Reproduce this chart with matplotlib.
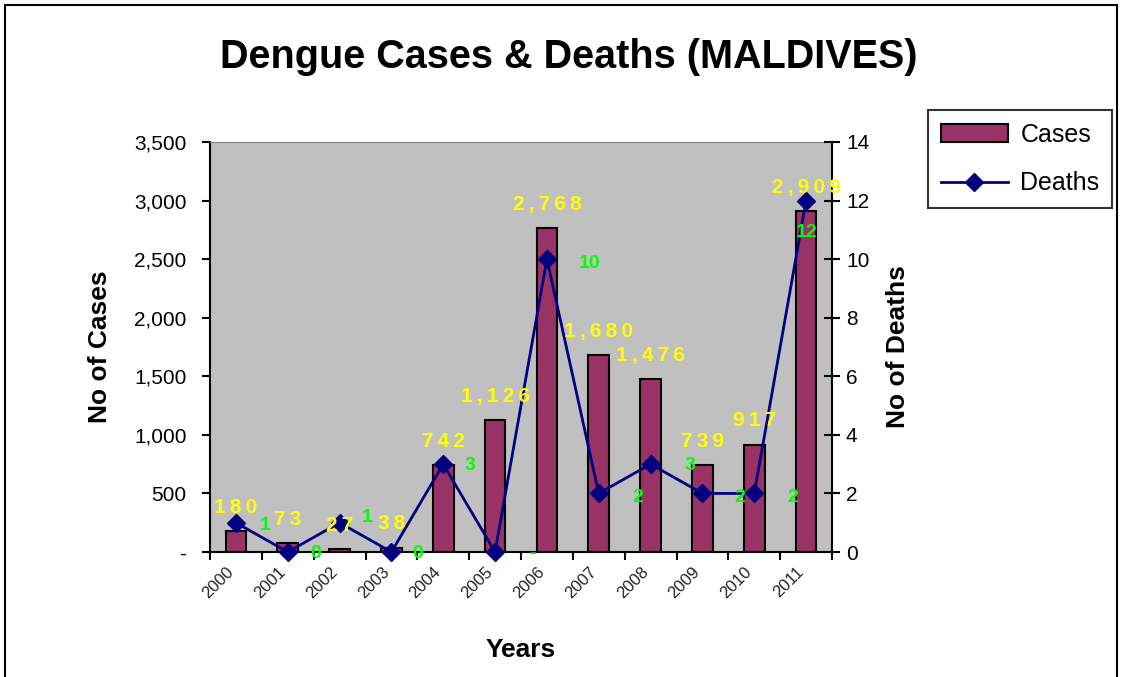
import matplotlib
matplotlib.use("Agg")
import matplotlib.pyplot as plt
import matplotlib.patches as patches
import matplotlib.transforms as mtransforms
import numpy as np

plt.rcParams['font.family'] = ['Liberation Sans', 'DejaVu Sans']

# data
years = ['2000', '2001', '2002', '2003', '2004', '2005',
         '2006', '2007', '2008', '2009', '2010', '2011']
cases = [180, 73, 27, 38, 742, 1126, 2768, 1680, 1476, 739, 917, 2909]
deaths = [1, 0, 1, 0, 3, 0, 10, 2, 3, 2, 2, 12]
death_labels = ['1', '0', '1', '0', '3', '-', '10', '2', '3', '2', '2', '12']

# hand placed offsets (points) of the green death labels, as in the original
death_offsets = [(21, -2), (20, -1), (20, 4), (19, -1), (19, -1), (27, -1),
                 (31, -3), (28, -3), (28, -1), (27, -3), (28, -3), (0, -23)]

BAR = '#993366'
LINE = '#000080'

fig = plt.figure(figsize=(11.21, 6.77), dpi=100)
W, H = 1121, 677

# outer chart border
fig.add_artist(patches.Rectangle((5 / W, -0.05), 1112 / W, 1.05 - 5 / H,
                                 transform=fig.transFigure, fill=False,
                                 edgecolor='black', linewidth=1.5))

ax = fig.add_axes([210 / W, 1 - 552 / H, 622 / W, 410 / H])
ax.set_facecolor('#C0C0C0')
x = np.arange(len(years))

ax.bar(x, cases, width=0.4, color=BAR, edgecolor='black', linewidth=1.5, zorder=2,
       label='Cases')
ax.set_xlim(-0.5, len(years) - 0.5)
ax.set_ylim(0, 3500)
ax.set_yticks(np.arange(0, 3501, 500))
ax.set_yticklabels(['-'] + [f'{v:,}' for v in range(500, 3501, 500)], fontsize=15)
ax.tick_params(axis='y', direction='out', length=6, width=1.5, pad=11)

ax.set_xticks(np.arange(-0.5, len(years), 1))
ax.set_xticklabels([])
ax.tick_params(axis='x', which='major', direction='out', length=6, width=1.5)
ax.set_xticks(x, minor=True)
ax.set_xticklabels(years, minor=True, rotation=45, ha='right', rotation_mode='anchor',
                   fontsize=12, color='#222222')
ax.tick_params(axis='x', which='minor', length=0, pad=9)
shift = mtransforms.ScaledTranslation(-10 / 100, 0, fig.dpi_scale_trans)
for lab in ax.get_xticklabels(minor=True):
    lab.set_transform(lab.get_transform() + shift)

for s in ['left', 'bottom']:
    ax.spines[s].set_linewidth(1.5)
ax.spines['top'].set_color('#808080')
ax.spines['right'].set_visible(False)

ax.set_ylabel('No of Cases', fontsize=19, fontweight='bold', labelpad=16)
ax.set_xlabel('Years', fontsize=19, fontweight='bold', labelpad=26)

ax2 = ax.twinx()
ax2.plot(x, deaths, color=LINE, linewidth=2, marker='D', markersize=9, zorder=3,
         label='Deaths', clip_on=False)
ax2.set_ylim(0, 14)
ax2.set_yticks(np.arange(0, 15, 2))
ax2.tick_params(axis='y', direction='inout', length=12, width=1.5, labelsize=15, pad=4)
ax2.spines['right'].set_linewidth(1.5)
ax2.spines['top'].set_visible(False)
ax2.spines['left'].set_visible(False)
ax2.spines['bottom'].set_visible(False)
ax2.set_ylabel('No of Deaths', fontsize=19, fontweight='bold', labelpad=12)

# case labels drawn on the top axes so they sit above the line
for xi, v in zip(x, cases):
    ax2.annotate('\u2009'.join(f'{v:,}'), (xi, v), xycoords=ax.transData,
                 xytext=(0, 17), textcoords='offset points',
                 ha='center', va='center', color='#FFFF00', fontsize=15,
                 fontweight='bold', zorder=6, annotation_clip=False)

for xi, v, lab, off in zip(x, deaths, death_labels, death_offsets):
    ax2.annotate(lab, (xi, v), xytext=off, textcoords='offset points',
                 ha='center', va='center', color='#00FF00', fontsize=14,
                 fontweight='bold', zorder=6, annotation_clip=False)

fig.suptitle('Dengue Cases & Deaths (MALDIVES)', x=569 / W, y=1 - 57 / H, va='center',
             fontsize=28.5, fontweight='bold')

h1, l1 = ax.get_legend_handles_labels()
h2, l2 = ax2.get_legend_handles_labels()
leg = fig.legend(h1 + h2, l1 + l2, loc='upper left', bbox_to_anchor=(928 / W, 1 - 110 / H),
                 fontsize=18, frameon=True, fancybox=False, shadow=False,
                 handlelength=2.7, handletextpad=0.5, borderpad=0.5, labelspacing=1.0,
                 borderaxespad=0)
leg.get_frame().set_edgecolor('black')
leg.get_frame().set_linewidth(1.5)

fig.savefig('out.png', dpi=100)
